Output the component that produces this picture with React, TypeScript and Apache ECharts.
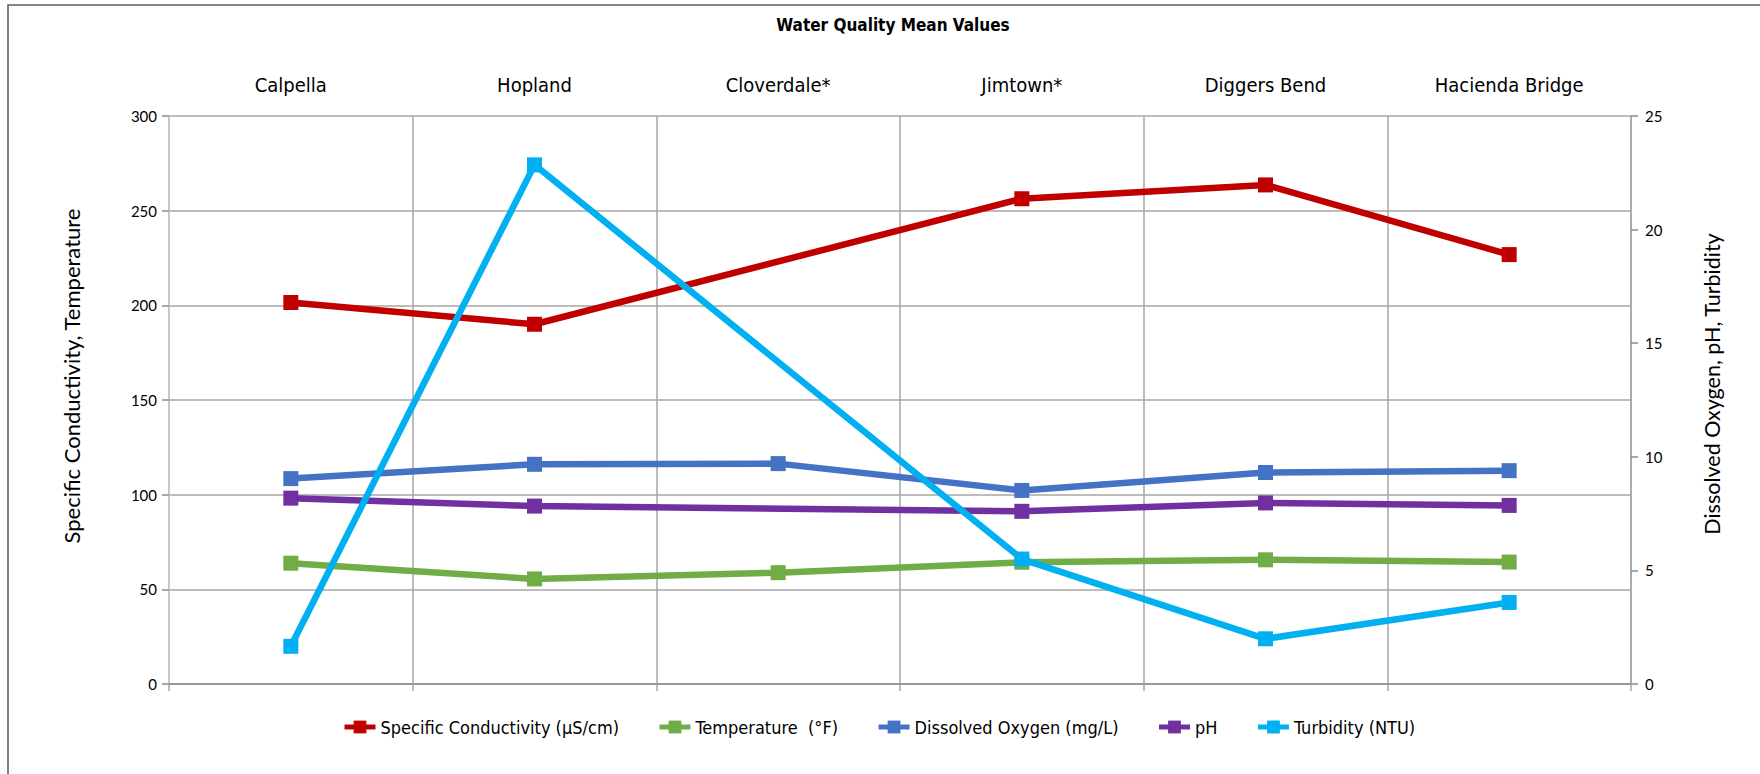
import React, { useEffect, useRef } from "react";
import * as echarts from "echarts";

const categories = ["Calpella", "Hopland", "Cloverdale*", "Jimtown*", "Diggers Bend", "Hacienda Bridge"];
const conductivity = [201.5, 190, null, 256.3, 263.6, 226.8];
const temperature = [63.8, 55.5, 58.8, 64.3, 65.6, 64.4];
const dissolvedOxygen = [9.04, 9.67, 9.7, 8.52, 9.31, 9.39];
const ph = [8.18, 7.83, null, 7.6, 7.97, 7.86];
const turbidity = [1.66, 22.85, null, 5.5, 1.99, 3.59];

const seriesNames = [
  "Specific Conductivity (µS/cm)",
  "Temperature  (°F)",
  "Dissolved Oxygen (mg/L)",
  "pH",
  "Turbidity (NTU)",
];
const seriesColors = ["#C00000", "#70AD47", "#4472C4", "#7030A0", "#00B0F0"];
const seriesData = [conductivity, temperature, dissolvedOxygen, ph, turbidity];
const seriesAxis = [0, 0, 1, 1, 1];

const leftAxisName = "Specific Conductivity, Temperature";
const rightAxisName = "Dissolved Oxygen, pH, Turbidity";
const chartTitle = "Water Quality Mean Values";

const NARROW = "'Liberation Sans Narrow', 'DejaVu Sans Condensed', 'Arial Narrow', Lato, sans-serif";
const NORMAL = "Lato, 'Open Sans', sans-serif";

export default function App() {
  const ref = useRef<HTMLDivElement>(null);
  useEffect(() => {
    document.body.style.margin = "0";
    const chart = echarts.init(ref.current!, undefined, { renderer: "svg" });
    const gridColor = "#a6a6a6";
    chart.setOption({
      animation: false,
      backgroundColor: "#ffffff",
      title: {
        text: chartTitle,
        left: 888,
        top: 11,
        textAlign: "center",
        textStyle: { fontFamily: NARROW, fontSize: 17, fontWeight: "bold", color: "#000" },
      },
      legend: {
        left: 337,
        top: 713,
        itemWidth: 31,
        itemHeight: 16,
        itemGap: 38,
        lineStyle: { width: 5 },
        textStyle: { fontFamily: NARROW, fontSize: 18, color: "#000" },
        data: seriesNames,
      },
      grid: { left: 169, right: 129, top: 116, bottom: 90 },
      xAxis: [
        {
          type: "category",
          data: categories,
          position: "bottom",
          boundaryGap: true,
          axisLine: { show: true, lineStyle: { color: "#8c8c8c", width: 1.5 } },
          axisTick: { show: true, length: 7, lineStyle: { color: gridColor, width: 1.5 } },
          axisLabel: { show: false },
          splitLine: { show: true, lineStyle: { color: gridColor, width: 1.5 } },
        },
        {
          type: "category",
          data: categories,
          position: "top",
          boundaryGap: true,
          axisLine: { show: false },
          axisTick: { show: false },
          axisLabel: { show: true, margin: 21, fontFamily: NARROW, fontSize: 20, color: "#000" },
          splitLine: { show: false },
        },
      ],
      yAxis: [
        {
          type: "value",
          min: 0,
          max: 300,
          interval: 50,
          position: "left",
          axisLine: { show: true, lineStyle: { color: "#c8c8c8", width: 2 } },
          axisTick: { show: true, length: 7, lineStyle: { color: "#8c8c8c", width: 1.5 } },
          axisLabel: { margin: 12, fontFamily: NORMAL, fontSize: 15, color: "#000" },
          splitLine: { show: true, lineStyle: { color: gridColor, width: 1.5 } },
        },
        {
          type: "value",
          min: 0,
          max: 25,
          interval: 5,
          position: "right",
          axisLine: { show: true, lineStyle: { color: "#a6a6a6", width: 1.5 } },
          axisTick: { show: true, length: 7, lineStyle: { color: "#8c8c8c", width: 1.5 } },
          axisLabel: { margin: 14, fontFamily: NORMAL, fontSize: 15, color: "#000" },
          splitLine: { show: false },
        },
      ],
      series: seriesNames.map((name, i) => ({
        name,
        type: "line",
        xAxisIndex: 0,
        yAxisIndex: seriesAxis[i],
        data: seriesData[i],
        connectNulls: true,
        symbol: "rect",
        symbolSize: 15,
        showSymbol: true,
        lineStyle: { color: seriesColors[i], width: 6.5 },
        itemStyle: { color: seriesColors[i] },
        z: 2 + i,
      })),
      graphic: [
        {
          type: "polyline",
          shape: { points: [[8, 780], [8, 5], [1760, 5]] },
          style: { stroke: "#5f5f5f", lineWidth: 1.6, fill: "none" },
          silent: true,
        },
        {
          type: "text",
          x: 71,
          y: 376,
          rotation: Math.PI / 2,
          style: {
            text: leftAxisName,
            fontFamily: NORMAL,
            fontSize: 22,
            fill: "#000",
            textAlign: "center",
            textVerticalAlign: "middle",
          },
        },
        {
          type: "text",
          x: 1712,
          y: 384,
          rotation: Math.PI / 2,
          style: {
            text: rightAxisName,
            fontFamily: NORMAL,
            fontSize: 21.5,
            fill: "#000",
            textAlign: "center",
            textVerticalAlign: "middle",
          },
        },
      ],
    });
    return () => chart.dispose();
  }, []);
  return <div ref={ref} style={{ width: 1760, height: 774 }} />;
}
